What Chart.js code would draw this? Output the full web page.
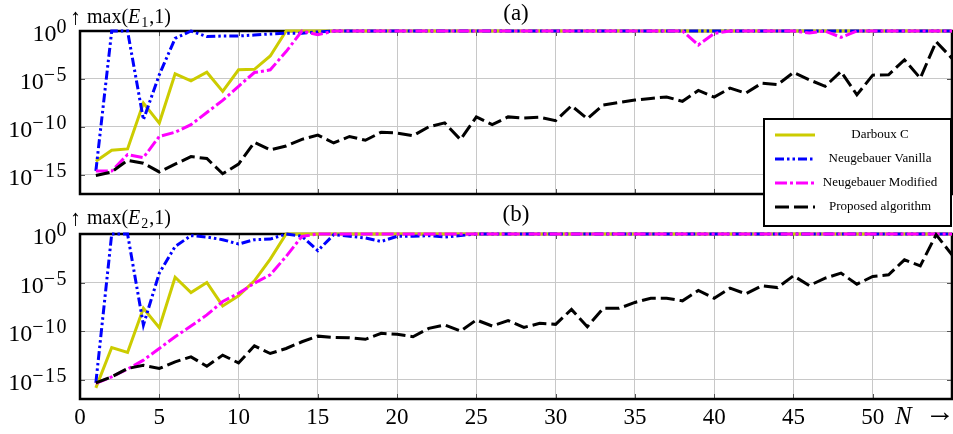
<!DOCTYPE html>
<html>
<head>
<meta charset="utf-8">
<script src="https://cdn.jsdelivr.net/npm/chart.js@4.4.1/dist/chart.umd.min.js"></script>
<style>
  html, body { margin: 0; padding: 0; background: #fff; }
  #wrap { position: relative; width: 953px; height: 434px; }
  #wrap canvas { position: absolute; left: 0; top: 0; }
</style>
</head>
<body>
<div id="wrap">
  <canvas id="chartB" width="953" height="434"></canvas>
  <canvas id="chartA" width="953" height="434"></canvas>
</div>
<script>
// =======================
// DATA
// =======================
const N = [
  1, 2, 3, 4, 5, 6, 7, 8, 9, 10,
  11, 12, 13, 14, 15, 16, 17, 18, 19, 20,
  21, 22, 23, 24, 25, 26, 27, 28, 29, 30,
  31, 32, 33, 34, 35, 36, 37, 38, 39, 40,
  41, 42, 43, 44, 45, 46, 47, 48, 49, 50,
  51, 52, 53, 54, 55
];

const seriesNames = ["Darboux C", "Neugebauer Vanilla", "Neugebauer Modified", "Proposed algorithm"];

const xTicks = [0, 5, 10, 15, 20, 25, 30, 35, 40, 45, 50];
const yTicks = [1e-15, 1e-10, 1e-5, 1];
const yTickExp = ["\u221215", "\u221210", "\u22125", "0"];

// panel (a): max(E1,1)
const darbouxA = [
  2.6e-14, 3.7e-13, 5.0e-13, 3.0e-8, 2.5e-10, 3.4e-5, 6.3e-6, 5.0e-5, 5.0e-7, 8.9e-5,
  1.0e-4, 2.5e-3, 1, 1, 1, 1, 1, 1, 1, 1,
  1, 1, 1, 1, 1, 1, 1, 1, 1, 1,
  1, 1, 1, 1, 1, 1, 1, 1, 1, 1,
  1, 1, 1, 1, 1, 1, 1, 1, 1, 1,
  1, 1, 1, 1, 1
];
const vanillaA = [
  2.5e-15, 1, 1, 5.6e-10, 2.7e-5, 0.17, 1, 0.26, 0.30, 0.30,
  0.38, 0.49, 0.58, 0.58, 0.8, 1, 1, 1, 1, 1,
  1, 1, 1, 1, 1, 1, 1, 1, 1, 1,
  1, 1, 1, 1, 1, 1, 1, 1, 1, 1,
  1, 1, 1, 1, 1, 1, 1, 1, 1, 1,
  1, 1, 1, 1, 1
];
const modifiedA = [
  2.5e-15, 2.5e-15, 1.3e-13, 6.3e-14, 1.0e-11, 2.8e-11, 1.7e-10, 3.2e-9, 5.8e-8, 1.7e-6,
  4.7e-5, 8.9e-5, 7.1e-3, 1, 0.4, 1, 1, 1, 1, 1,
  1, 1, 1, 1, 1, 1, 1, 1, 1, 1,
  1, 1, 1, 1, 1, 1, 1, 1, 0.035, 0.56,
  1, 1, 1, 1, 1, 0.63, 1, 0.22, 1, 1,
  1, 1, 1, 1, 1
];
const proposedA = [
  8.5e-16, 2.0e-15, 3.2e-14, 1.6e-14, 2.0e-15, 1.3e-14, 7.9e-14, 5.0e-14, 1.3e-15, 1.3e-14,
  2.5e-12, 4.0e-13, 1.0e-12, 5.0e-12, 1.4e-11, 2.1e-12, 1.0e-11, 4.0e-12, 2.8e-11, 2.3e-11,
  1.2e-11, 1.0e-10, 2.6e-10, 4.7e-12, 1.1e-9, 1.7e-10, 1.1e-9, 8.3e-10, 1.0e-9, 4.5e-10,
  1.6e-8, 7.2e-10, 1.9e-8, 3.5e-8, 6.3e-8, 9.3e-8, 1.3e-7, 4.6e-8, 6.3e-7, 1.3e-7,
  1.1e-6, 3.3e-7, 3.6e-6, 2.5e-6, 4.7e-5, 8.1e-6, 1.7e-6, 5.9e-5, 2.2e-7, 2.5e-5,
  2.7e-5, 9.8e-4, 1.2e-5, 7.8e-2, 1.4e-3
];

// panel (b): max(E2,1)
const darbouxB = [
  1.4e-16, 2.0e-12, 6.3e-13, 2.2e-8, 2.2e-10, 3.5e-5, 9.3e-7, 1.0e-5, 3.9e-8, 4.2e-7,
  1.5e-5, 2.6e-3, 1, 1, 1, 1, 1, 1, 1, 1,
  1, 1, 1, 1, 1, 1, 1, 1, 1, 1,
  1, 1, 1, 1, 1, 1, 1, 1, 1, 1,
  1, 1, 1, 1, 1, 1, 1, 1, 1, 1,
  1, 1, 1, 1, 1
];
const vanillaB = [
  4.6e-16, 1, 1, 4.2e-10, 9.3e-5, 0.052, 0.68, 0.49, 0.26, 0.093,
  0.26, 0.30, 1, 0.58, 0.019, 0.85, 0.58, 0.39, 0.17, 0.58,
  0.58, 0.68, 0.49, 0.68, 1, 1, 1, 1, 1, 1,
  1, 1, 1, 1, 1, 1, 1, 1, 1, 1,
  1, 1, 1, 1, 1, 1, 1, 1, 1, 1,
  1, 1, 1, 1, 1
];
const modifiedB = [
  4.0e-16, 1.9e-15, 1.2e-14, 1.0e-13, 1.6e-12, 2.6e-11, 3.3e-10, 4.6e-9, 1.1e-7, 7.9e-7,
  8.5e-6, 6.3e-5, 4.9e-3, 0.58, 1, 1, 1, 1, 1, 1,
  1, 1, 1, 1, 1, 1, 1, 1, 1, 1,
  1, 1, 1, 1, 1, 1, 1, 1, 1, 1,
  1, 1, 1, 1, 1, 1, 1, 1, 1, 1,
  1, 1, 1, 1, 1
];
const proposedB = [
  4.6e-16, 1.9e-15, 1.4e-14, 3.0e-14, 1.4e-14, 6.8e-14, 2.2e-13, 2.4e-14, 3.3e-13, 5.2e-14,
  3.0e-12, 4.9e-13, 1.6e-12, 7.9e-12, 3.0e-11, 2.2e-11, 2.0e-11, 1.4e-11, 5.8e-11, 4.6e-11,
  2.6e-11, 1.9e-10, 4.2e-10, 1.0e-10, 1.4e-9, 3.3e-10, 1.2e-9, 2.4e-10, 6.2e-10, 4.9e-10,
  1.7e-8, 2.8e-10, 2.2e-8, 2.2e-8, 8.9e-8, 2.4e-7, 2.4e-7, 1.3e-7, 1.5e-6, 2.4e-7,
  2.6e-6, 6.8e-7, 4.6e-6, 3.0e-6, 4.9e-5, 4.9e-6, 2.8e-5, 9.3e-5, 6.8e-6, 4.2e-5,
  6.2e-5, 2.2e-3, 5.2e-4, 0.85, 7.2e-3
];

// =======================
// STYLES
// =======================
const SERIF = "'Liberation Serif', 'DejaVu Serif', serif";
const lineColors = ["#cccc00", "#0000ff", "#ff00ff", "#000000"];
const lineDashes = [[], [9, 3, 2.5, 3, 2.5, 3], [12, 3, 3, 3], [14, 5]];
const GRID = "#c8c8c8";

// =======================
// FRAME / LABELS PLUGIN
// =======================
const framePlugin = {
    id: "frame",

    beforeDatasetsDraw(chart) {
        const ctx = chart.ctx;
        const a = chart.chartArea;
        const xs = chart.scales.x;
        const ys = chart.scales.y;

        ctx.save();
        // short inner tick marks (pgfplots style)
        ctx.strokeStyle = "#555";
        ctx.lineWidth = 1;
        ctx.beginPath();
        xs.ticks.forEach(t => {
            const px = Math.round(xs.getPixelForValue(t.value)) + 0.5;
            ctx.moveTo(px, a.bottom); ctx.lineTo(px, a.bottom - 5);
            ctx.moveTo(px, a.top); ctx.lineTo(px, a.top + 5);
        });
        yTicks.forEach(v => {
            const py = Math.round(ys.getPixelForValue(v)) + 0.5;
            ctx.moveTo(a.left, py); ctx.lineTo(a.left + 5, py);
            ctx.moveTo(a.right, py); ctx.lineTo(a.right - 5, py);
        });
        ctx.stroke();

        ctx.strokeStyle = "#000";
        ctx.lineWidth = 2.5;
        ctx.strokeRect(a.left, a.top, a.right - a.left, a.bottom - a.top);
        ctx.restore();
    },

    afterDraw(chart, args, opts) {
        const ctx = chart.ctx;
        const a = chart.chartArea;
        const ys = chart.scales.y;

        ctx.save();
        ctx.fillStyle = "#000";
        ctx.textBaseline = "alphabetic";

        // y tick labels 10^k, right aligned
        yTicks.forEach((v, i) => {
            const py = ys.getPixelForValue(v);
            ctx.textAlign = "right";
            ctx.font = "20px " + SERIF;
            ctx.letterSpacing = "1.5px";
            const ew = ctx.measureText(yTickExp[i]).width;
            ctx.fillText(yTickExp[i], 68, py + 2);
            ctx.letterSpacing = "0px";
            ctx.font = "24px " + SERIF;
            ctx.fillText("10", 68 - ew, py + 10);
        });

        // axis label  ↑ max(E_k,1)
        const base = a.top - opts.lift;
        ctx.textAlign = "left";
        ctx.font = "22px " + SERIF;
        ctx.fillText("\u2191", 70, base + 1);
        let x = 87;
        ctx.font = "20px " + SERIF;
        ctx.fillText("max(", x, base);
        x += ctx.measureText("max(").width;
        ctx.font = "italic 20px " + SERIF;
        ctx.fillText("E", x, base);
        x += ctx.measureText("E").width + 1;
        ctx.font = "14px " + SERIF;
        ctx.fillText(opts.sub, x, base + 4);
        x += ctx.measureText(opts.sub).width + 1;
        ctx.font = "20px " + SERIF;
        ctx.fillText(",1)", x, base);

        // panel title
        ctx.textAlign = "center";
        ctx.font = "23px " + SERIF;
        ctx.fillText(opts.title, (a.left + a.right) / 2, a.top - opts.lift - 3);

        // N ->
        if (opts.nLabel) {
            ctx.textAlign = "left";
            ctx.font = "italic 25px " + SERIF;
            ctx.fillText("N", 895, 424);
            ctx.font = "30px " + SERIF;
            ctx.fillText("\u2192", 925, 421);
        }

        // legend
        if (opts.legend) {
            const bx = 764, by = 119, bw = 187, bh = 107;
            ctx.fillStyle = "#fff";
            ctx.fillRect(bx, by, bw, bh);
            ctx.strokeStyle = "#000";
            ctx.lineWidth = 2;
            ctx.strokeRect(bx, by, bw, bh);

            const rows = [135, 159, 183, 207];
            chart.data.datasets.forEach((ds, k) => {
                const ry = rows[k];
                ctx.strokeStyle = ds.borderColor;
                ctx.lineWidth = 3;
                ctx.setLineDash(ds.borderDash);
                ctx.beginPath();
                ctx.moveTo(775, ry);
                ctx.lineTo(815, ry);
                ctx.stroke();
                ctx.setLineDash([]);

                ctx.fillStyle = "#000";
                ctx.textAlign = "center";
                ctx.textBaseline = "middle";
                ctx.font = "13px " + SERIF;
                ctx.fillText(ds.label, 880, ry);
            });
        }
        ctx.restore();
    }
};

// =======================
// CHART BUILDER
// =======================
function makeChart(id, padding, sets, showX, frameOpts) {

    return new Chart(document.getElementById(id), {
        type: "line",
        data: {
            datasets: sets.map((vals, k) => ({
                label: seriesNames[k],
                data: N.map((n, i) => ({ x: n, y: vals[i] })),
                borderColor: lineColors[k],
                borderDash: lineDashes[k],
                borderWidth: 3,
                pointRadius: 0,
                tension: 0,
                fill: false,
                order: 3 - k,
                clip: 4
            }))
        },
        options: {
            responsive: false,
            animation: false,
            layout: { padding },
            plugins: {
                legend: { display: false },
                tooltip: { enabled: false },
                frame: frameOpts
            },
            scales: {
                x: {
                    type: "linear",
                    min: 0,
                    max: 55,
                    afterFit: axis => {
                        axis.paddingLeft = 0;
                        axis.paddingRight = 0;
                        axis.height = showX ? 30 : 0;
                    },
                    grid: { color: GRID, drawTicks: false, lineWidth: 1 },
                    border: { display: false },
                    ticks: {
                        display: showX,
                        stepSize: 5,
                        padding: 5,
                        maxRotation: 0,
                        autoSkip: false,
                        color: "#000",
                        font: { family: SERIF, size: 23 },
                        callback: v => xTicks.includes(v) ? String(v) : ""
                    }
                },
                y: {
                    type: "logarithmic",
                    min: 1e-17,
                    max: 1,
                    afterBuildTicks: axis => {
                        axis.ticks = yTicks.map(v => ({ value: v }));
                    },
                    afterFit: axis => {
                        axis.width = 0;
                    },
                    grid: { color: GRID, drawTicks: false, lineWidth: 1 },
                    border: { display: false },
                    ticks: { display: false }
                }
            }
        },
        plugins: [framePlugin]
    });
}

makeChart("chartB", { top: 234, left: 80, right: 1, bottom: 5 },
    [darbouxB, vanillaB, modifiedB, proposedB], true,
    { title: "(b)", sub: "2", legend: false, nLabel: true, lift: 10 });

makeChart("chartA", { top: 31, left: 80, right: 1, bottom: 240 },
    [darbouxA, vanillaA, modifiedA, proposedA], false,
    { title: "(a)", sub: "1", legend: true, nLabel: false, lift: 8 });
</script>
</body>
</html>
